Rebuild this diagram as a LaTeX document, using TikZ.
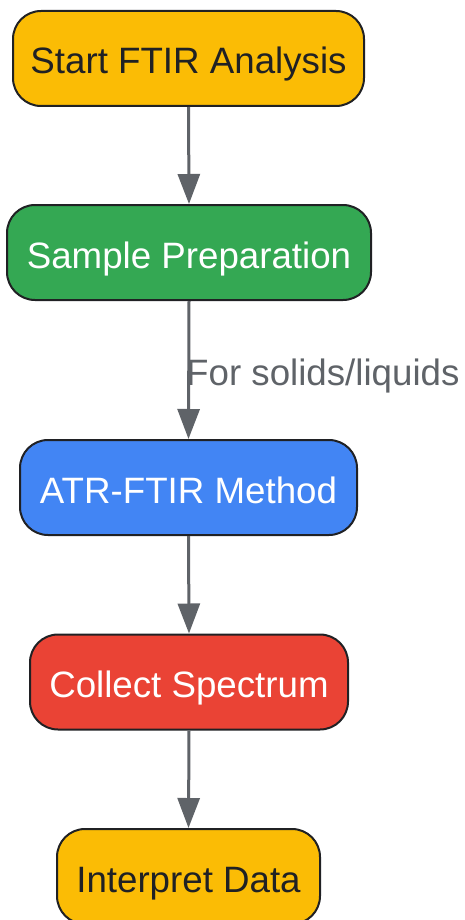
\documentclass[tikz,border=0pt]{standalone}
\usepackage{fontspec}
\setmainfont{Liberation Sans}
\usetikzlibrary{arrows.meta}
\definecolor{yel}{HTML}{FBBC05}
\definecolor{grn}{HTML}{34A853}
\definecolor{blu}{HTML}{4285F4}
\definecolor{rd}{HTML}{EA4335}
\definecolor{dark}{HTML}{202124}
\definecolor{edge}{HTML}{5F6368}
\begin{document}
\begin{tikzpicture}[x=1pt,y=-1pt,
  box/.style={draw=dark, line width=2pt, rounded corners=28pt, inner sep=0pt,
    minimum height=95pt, text height=31pt, text depth=0pt,
    font=\fontsize{36.7}{44}\selectfont},
  conn/.style={draw=edge, line width=3pt, -{Triangle[length=30pt,width=22pt]}},
  lbl/.style={text=edge, font=\fontsize{36.7}{44}\selectfont, inner sep=0pt,
    text height=31pt, text depth=0pt}]
\useasboundingbox (0,0) rectangle (464,920);
\node[box, fill=yel, text=dark, minimum width=351pt] (a) at (188.5,58.5) {Start FTIR Analysis};
\node[box, fill=grn, text=white, minimum width=364pt] (b) at (189,252.5) {Sample Preparation};
\node[box, fill=blu, text=white, minimum width=337pt] (c) at (188.5,487.5) {ATR-FTIR Method};
\node[box, fill=rd, text=white, minimum width=318pt] (d) at (189,682) {Collect Spectrum};
\node[box, fill=yel, text=dark, minimum width=263pt] (e) at (188.5,876.5) {Interpret Data};
\draw[conn] (a.south) -- (b.north);
\draw[conn] (b.south) -- (c.north);
\draw[conn] (c.south) -- (d.north);
\draw[conn] (d.south) -- (e.north);
\node[lbl, anchor=west] (l) at (186,369.5) {For solids/liquids};
\end{tikzpicture}
\end{document}
